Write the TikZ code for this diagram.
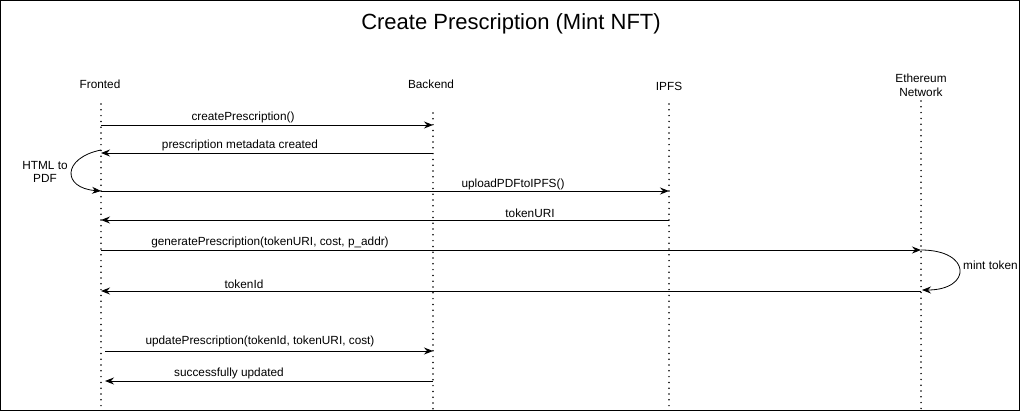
\documentclass[tikz,border=0pt]{standalone}
\usepackage{fontspec}
\setmainfont{Liberation Sans}
\usetikzlibrary{arrows.meta}
\begin{document}
\begin{tikzpicture}[x=1pt,y=-1pt,
  lbl/.style={font=\fontsize{11.8}{13.5}\selectfont, inner sep=0pt, align=center},
  head/.style={font=\fontsize{11.8}{14}\selectfont, inner sep=0pt, align=center},
  life/.style={line width=1.7pt, dash pattern=on 0pt off 5.8pt, line cap=round},
  msg/.style={line width=1pt, -{Stealth[length=9pt,width=7pt,inset=3pt]}},
  loopy/.style={line width=0.8pt, -{Stealth[length=9pt,width=7pt,inset=3pt]}},
]
\useasboundingbox (0,0) rectangle (1021,413);
\draw[line width=1pt] (0.8,0.8) rectangle (1019.6,410);

\node[font=\fontsize{22}{26}\selectfont, inner sep=0pt] (title) at (511,24) {Create Prescription (Mint NFT)};

% lifeline heads
\node[head] (fe) at (100,84) {Fronted};
\node[head] (be) at (431,84) {Backend};
\node[head] (ipfs) at (669,86) {IPFS};
\node[head] (eth) at (921,85.5) {Ethereum\\Network};

% lifeline coordinates
\coordinate (feT) at (101,104);
\coordinate (feB) at (101,410);
\coordinate (beT) at (433,113);
\coordinate (beB) at (433,410);
\coordinate (ipT) at (669,104);
\coordinate (ipB) at (669,410);
\coordinate (etT) at (921,101);
\coordinate (etB) at (921,410);

\draw[life] (feT) -- (feB);
\draw[life] (beT) -- (beB);
\draw[life] (ipT) -- (ipB);
\draw[life] (etT) -- (etB);

% message end points
\coordinate (f1) at (101,125);  \coordinate (b1) at (433,125);
\coordinate (b2) at (433,153);  \coordinate (f2) at (101,153);
\coordinate (f3a) at (101,150); \coordinate (f3b) at (101,191);
\coordinate (f4) at (101,191);  \coordinate (i4) at (669,191);
\coordinate (i5) at (669,220);  \coordinate (f5) at (101,220);
\coordinate (f6) at (101,250);  \coordinate (e6) at (921,250);
\coordinate (e7a) at (921,250); \coordinate (e7b) at (922,290);
\coordinate (e8) at (921,291);  \coordinate (f8) at (101,291);
\coordinate (f9) at (105,351);  \coordinate (b9) at (433,351);
\coordinate (b10) at (433,381); \coordinate (f10) at (105,381);

\draw[msg] (f1) -- (b1);
\draw[msg] (b2) -- (f2);
\draw[loopy] (f3a) .. controls (62,158) and (62,188) .. (f3b);
\draw[msg] (f4) -- (i4);
\draw[msg] (i5) -- (f5);
\draw[msg] (f6) -- (e6);
\draw[loopy] (e7a) .. controls (972,250) and (972,290) .. (e7b);
\draw[msg] (e8) -- (f8);
\draw[msg] (f9) -- (b9);
\draw[msg] (b10) -- (f10);

% labels
\node[lbl] (l1) at (243,117) {createPrescription()};
\node[lbl] (l2) at (240,145.5) {prescription metadata created};
\node[lbl] (l3) at (45,172) {HTML to\\PDF};
\node[lbl] (l4) at (513,184) {uploadPDFtoIPFS()};
\node[lbl] (l5) at (530,213) {tokenURI};
\node[lbl] (l6) at (270,242) {generatePrescription(tokenURI, cost, p\_addr)};
\node[lbl, anchor=west] (l7) at (963,265) {mint token};
\node[lbl] (l8) at (244,284) {tokenId};
\node[lbl] (l9) at (260,341.5) {updatePrescription(tokenId, tokenURI, cost)};
\node[lbl] (l10) at (229,373) {successfully updated};
\end{tikzpicture}
\end{document}
